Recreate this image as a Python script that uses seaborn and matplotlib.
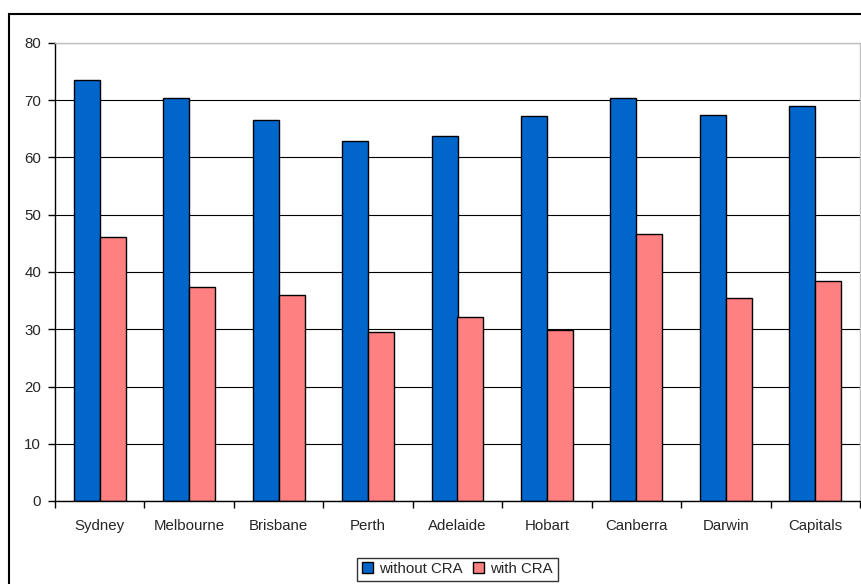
import matplotlib
matplotlib.use("Agg")
import matplotlib.pyplot as plt
from matplotlib.patches import Rectangle
import seaborn as sns
import pandas as pd
import numpy as np

cities = ["Sydney", "Melbourne", "Brisbane", "Perth", "Adelaide", "Hobart",
          "Canberra", "Darwin", "Capitals"]
without_cra = [73.5, 70.4, 66.5, 62.9, 63.7, 67.2, 70.4, 67.5, 69.0]
with_cra = [46.2, 37.3, 36.0, 29.5, 32.2, 29.9, 46.7, 35.5, 38.5]
series_names = ["without CRA", "with CRA"]
y_ticks = [0, 10, 20, 30, 40, 50, 60, 70, 80]

df = pd.DataFrame({
    "city": cities * 2,
    "value": without_cra + with_cra,
    "series": [series_names[0]] * len(cities) + [series_names[1]] * len(cities),
})

sns.set_style("white")
plt.rcParams["font.family"] = ["Liberation Sans", "DejaVu Sans"]

fig = plt.figure(figsize=(8.61, 5.84), dpi=100)
ax = fig.add_axes([55 / 861, 83 / 584, 805 / 861, 458 / 584])

sns.barplot(data=df, x="city", y="value", hue="series", order=cities,
            hue_order=series_names, palette=["#0066CC", "#FF8080"],
            width=0.58, gap=0, edgecolor="black", linewidth=1,
            saturation=1, ax=ax, legend=True)

ax.set_ylim(0, 80)
ax.set_xlim(-0.5, len(cities) - 0.5)
ax.set_yticks(y_ticks)
ax.set_xlabel("")
ax.set_ylabel("")
ax.yaxis.grid(True, color="black", linewidth=0.8)
ax.set_axisbelow(True)

for s in ["top", "right"]:
    ax.spines[s].set_visible(True)
    ax.spines[s].set_color("#c0c0c0")
    ax.spines[s].set_linewidth(1)
for s in ["left", "bottom"]:
    ax.spines[s].set_color("black")
    ax.spines[s].set_linewidth(1)

fs = 10.8
ax.tick_params(axis="y", direction="out", length=5, width=1, color="black",
               labelsize=fs, pad=5, left=True)
ax.tick_params(axis="x", which="major", length=0, labelsize=fs, pad=13)
ax.set_xticks(np.arange(-0.5, len(cities), 1.0), minor=True)
ax.tick_params(axis="x", which="minor", direction="out", length=5, width=1,
               color="black", bottom=True)

handles, labels = ax.get_legend_handles_labels()
ax.get_legend().remove()
leg = fig.legend(handles, labels, loc="center", bbox_to_anchor=(457.5 / 861, 1 - 569 / 584),
                 ncol=2, frameon=True, fancybox=False, edgecolor="black",
                 fontsize=fs, handlelength=0.75, handleheight=0.75,
                 handletextpad=0.4, columnspacing=0.7, borderpad=0.3,
                 borderaxespad=0)
leg.get_frame().set_linewidth(1)

fig.patches.append(Rectangle((9 / 861, -0.05), 1.0, 1 - 14 / 584 + 0.05,
                             transform=fig.transFigure, fill=False,
                             edgecolor="black", linewidth=1.5, zorder=0))

fig.savefig("out.png", dpi=100)
